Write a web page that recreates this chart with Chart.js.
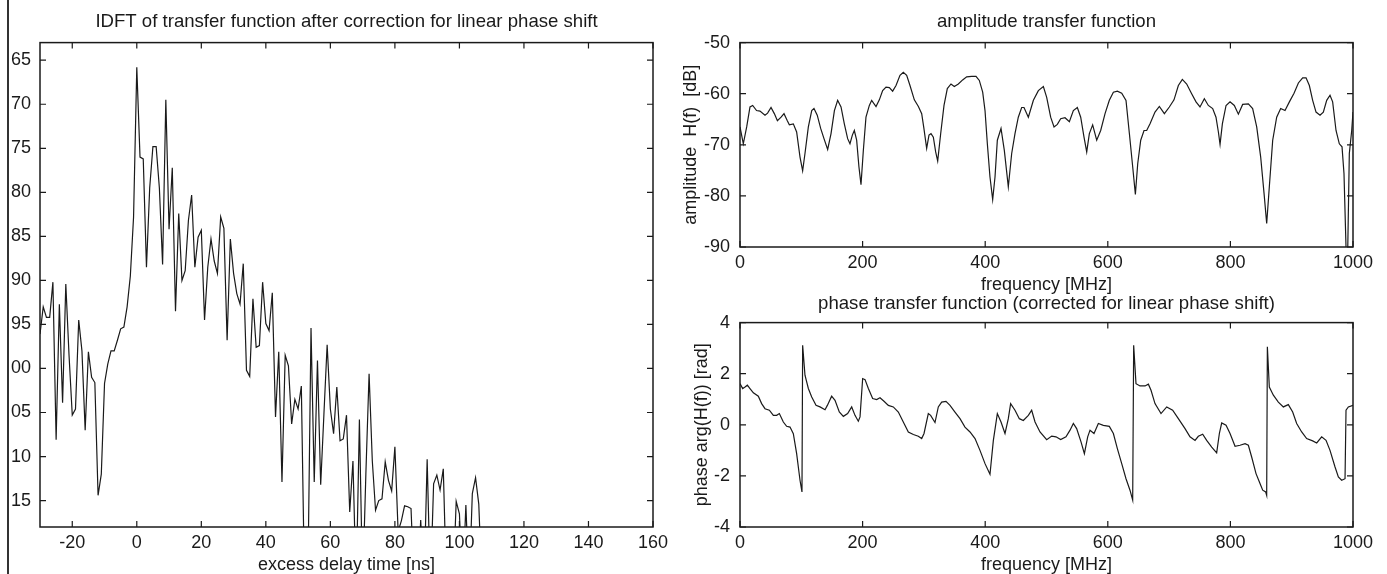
<!DOCTYPE html>
<html>
<head>
<meta charset="utf-8">
<script src="https://cdn.jsdelivr.net/npm/chart.js@4/dist/chart.umd.min.js"></script>
<style>
  html, body { margin: 0; padding: 0; background: #fff; overflow: hidden; }
  body { position: relative; width: 1387px; height: 574px; }
  canvas { position: absolute; }
  #edge { position: absolute; left: 7px; top: 0; width: 2px; height: 574px; background: #333; }
</style>
</head>
<body>
<div id="edge"></div>
<canvas id="idft" width="672" height="574" style="left:8px;top:0"></canvas>
<canvas id="amp" width="707" height="294" style="left:680px;top:0"></canvas>
<canvas id="phase" width="707" height="280" style="left:680px;top:294px"></canvas>
<script>
// IDFT (impulse response) in dB, 1 ns steps
const delayNs = [
  -30, -29, -28, -27, -26, -25, -24, -23, -22, -21, -20, -19, -18, -17, -16, -15, -14, -13, -12, -11,
  -10, -9, -8, -7, -6, -5, -4, -3, -2, -1, 0, 1, 2, 3, 4, 5, 6, 7, 8, 9,
  10, 11, 12, 13, 14, 15, 16, 17, 18, 19, 20, 21, 22, 23, 24, 25, 26, 27, 28, 29,
  30, 31, 32, 33, 34, 35, 36, 37, 38, 39, 40, 41, 42, 43, 44, 45, 46, 47, 48, 49,
  50, 51, 52, 53, 54, 55, 56, 57, 58, 59, 60, 61, 62, 63, 64, 65, 66, 67, 68, 69,
  70, 71, 72, 73, 74, 75, 76, 77, 78, 79, 80, 81, 82, 83, 84, 85, 86, 87, 88, 89,
  90, 91, 92, 93, 94, 95, 96, 97, 98, 99, 100, 101, 102, 103, 104, 105, 106, 107
]
const idftDb = [
  -96.1, -93.0, -94.2, -94.2, -90.2, -108.1, -92.7, -103.9, -90.4, -98.5, -105.3, -104.6, -94.5, -98.0, -107.0, -98.1, -101.0, -101.6, -114.4, -112.0,
  -101.7, -99.5, -98.0, -98.0, -96.8, -95.5, -95.3, -93.0, -89.5, -82.8, -65.8, -76.0, -76.2, -88.5, -79.5, -74.8, -74.8, -79.5, -88.2, -69.5,
  -84.2, -77.2, -93.5, -82.4, -90.0, -88.9, -83.2, -80.3, -88.5, -85.1, -84.3, -94.5, -88.5, -85.3, -87.8, -89.2, -82.8, -84.1, -96.8, -85.3,
  -89.2, -91.5, -92.7, -88.1, -100.2, -100.9, -92.1, -97.6, -97.4, -90.2, -94.9, -95.7, -91.4, -105.5, -98.1, -112.9, -98.5, -99.7, -106.3, -103.5,
  -104.6, -102.0, -125, -125, -95.4, -112.9, -99.1, -113.2, -105.2, -97.3, -104.6, -107.4, -102.1, -108.2, -108.0, -105.3, -116.3, -110.5, -125, -105.8,
  -125, -112.0, -100.6, -110.5, -116.1, -115.0, -114.8, -110.6, -112.7, -113.9, -108.9, -118.5, -117.3, -115.6, -115.7, -115.9, -125, -125, -117.2, -125,
  -110.3, -125, -113.1, -112.1, -113.8, -111.4, -125, -125, -125, -115.1, -116.5, -125, -115.5, -125, -114.2, -112.4, -115.4, -125
]
const delayTicks = [-20, 0, 20, 40, 60, 80, 100, 120, 140, 160]
const idftTicks = [-65, -70, -75, -80, -85, -90, -95, -100, -105, -110, -115]
// left edge of the figure is cropped, only the last two digits show
const idftTickLabels = ['65', '70', '75', '80', '85', '90', '95', '00', '05', '10', '15']

// amplitude transfer function
const ampFreq = [
  0, 5.4, 10.9, 16.3, 20.7, 27, 32.6, 40.8, 45, 50.6, 56, 61, 67, 71.8, 77.2, 80.5, 87, 92.4, 97.9, 102.2,
  106, 111.5, 117, 120.7, 126, 131.6, 137, 143, 148.5, 154, 159.3, 164.8, 170.2, 175.6, 179.4, 183.3, 186.5, 190.3, 194, 197.4,
  201.2, 205.5, 211, 214.8, 221.9, 227.3, 232.7, 238.2, 243.6, 249, 254.5, 261, 266.4, 271.9, 277.3, 284.4, 291, 296.4, 300, 304.5,
  308.3, 311.6, 315.4, 319.2, 322.5, 327.4, 332.8, 338.2, 344.2, 349.6, 356.2, 363.2, 369.8, 378, 385, 390.4, 395.9, 399.7, 403.5, 407.8,
  412.2, 416, 419.8, 425.8, 431.2, 437.7, 443.2, 448.6, 454, 459.5, 463.3, 470.4, 478.6, 486.7, 494.9, 500.3, 506.8, 512.3, 517.7, 523.1,
  530.2, 537.3, 543.8, 550.3, 555.8, 561.2, 565.6, 569.9, 575.3, 581.9, 588.4, 595.5, 602.5, 609.1, 615.6, 622.7, 629.7, 635.2, 640.6, 645,
  648.8, 653.7, 659.1, 663.4, 668.9, 677, 684.1, 692.3, 700.4, 708, 715.1, 721.6, 728.7, 736.8, 743.9, 750.4, 757.5, 764, 771.1, 776.5,
  780.4, 783.1, 786.9, 792.9, 799.4, 806.4, 813, 820, 829.3, 836.3, 842.9, 849.4, 854.9, 859.2, 863.5, 869, 875.5, 882, 889.1, 896.2,
  903.8, 910.9, 917.9, 923.4, 928.8, 934.2, 939.7, 946.2, 951.6, 957.1, 962.5, 966.8, 972.3, 977.7, 982.1, 985.3, 988.6, 990.8, 994, 997.9,
  1000
]
const ampDb = [
  -66.5, -69.8, -66.5, -62.6, -62.3, -63.3, -63.4, -64.2, -63.8, -62.7, -63.9, -65.3, -64.6, -63.9, -65.3, -66.1, -65.9, -67.5, -72.4, -75.1,
  -71.7, -66.5, -63.3, -62.9, -64.2, -66.8, -68.8, -70.9, -67.8, -63.3, -61.3, -62.6, -65.9, -68.8, -69.8, -68.1, -67.2, -69.1, -74.3, -77.8,
  -71.1, -64.6, -62.3, -61.3, -62.5, -61.2, -59.4, -58.7, -58.8, -59.5, -58.4, -56.4, -55.8, -56.4, -58.4, -61.2, -62.5, -63.9, -66.8, -70.7,
  -68.1, -67.8, -68.5, -71.4, -73.2, -67.8, -62.3, -59.0, -58.1, -58.6, -58.1, -57.3, -56.7, -56.6, -56.6, -57.4, -59.7, -63.3, -69.8, -76.3,
  -80.7, -76.3, -69.1, -66.8, -71.1, -78.2, -71.7, -67.8, -64.6, -62.7, -62.7, -64.6, -61.3, -59.4, -58.6, -60.7, -64.6, -66.5, -66.0, -64.9,
  -64.7, -65.5, -63.3, -62.7, -64.6, -68.5, -71.4, -67.8, -66.1, -69.1, -67.2, -63.9, -61.3, -59.7, -59.5, -59.9, -61.3, -67.8, -74.3, -79.7,
  -73.7, -69.1, -67.2, -67.2, -65.9, -63.6, -62.5, -63.9, -62.6, -61.2, -58.4, -57.2, -58.1, -60.0, -61.6, -62.6, -61.0, -62.3, -62.9, -64.6,
  -67.5, -69.9, -65.9, -62.3, -61.6, -62.3, -64.0, -62.1, -62.0, -62.9, -66.5, -72.4, -79.5, -85.4, -78.2, -69.1, -64.6, -62.9, -63.3, -61.6,
  -59.9, -57.9, -56.9, -56.9, -58.4, -61.3, -63.6, -64.2, -63.6, -61.3, -60.3, -61.6, -67.2, -69.8, -70.4, -75.6, -90.0, -95.0, -71.7, -67.2,
  -63.6
]
const ampTicks = [-90, -80, -70, -60, -50]
const freqTicks = [0, 200, 400, 600, 800, 1000]

// phase transfer function (corrected for linear phase shift)
const phaseFreq = [
  0, 4.4, 8.2, 12, 16.3, 21.8, 29.9, 35.3, 40.8, 47.9, 54.4, 59.8, 64.2, 70.7, 76.1, 81.6, 87, 92.4, 97.9, 101.1,
  102.2, 106, 111.5, 117, 124, 130.5, 138.7, 142.5, 149.5, 155, 162, 168.6, 175.6, 182.2, 187.6, 193, 195.8, 200.1, 204, 209.4,
  216.4, 223, 228.4, 234.9, 242, 250.1, 258.3, 266.4, 274.6, 282.8, 290.9, 296.4, 300.2, 307.2, 311, 318.1, 323.5, 329, 336, 342.6,
  350.7, 358.9, 367, 375.2, 383.4, 391.5, 399.7, 407.8, 413.3, 419.8, 425.8, 432.3, 437.7, 441.5, 448.6, 455.7, 462.2, 470.4, 475.8, 481.3,
  489.4, 500.3, 508.5, 515.5, 523.1, 531.8, 538.4, 543.8, 549.2, 556.3, 561.8, 567.2, 571, 577.5, 584.6, 592.7, 602.5, 609.1, 615.6, 622.7,
  629.7, 636.2, 640.6, 642.2, 646, 652.6, 660.7, 666.2, 670.5, 677, 686.8, 696.1, 705.8, 715.1, 726, 734.1, 742.3, 747.7, 754.8, 761.3,
  769.5, 777.6, 782, 785.8, 792.9, 799.4, 807.6, 815.7, 823.9, 829.3, 834.7, 841.8, 848.3, 852.7, 857.6, 859.2, 860.3, 863.5, 870.1, 878.2,
  886.4, 894.5, 901.6, 908.1, 916.3, 924.4, 934.2, 940.8, 948.9, 956, 962.5, 970.7, 976.1, 981.5, 987, 988.6, 992.4, 1000
]
const phaseRad = [
  1.61, 1.42, 1.48, 1.55, 1.42, 1.25, 1.12, 0.83, 0.63, 0.57, 0.37, 0.37, 0.44, 0.11, -0.06, -0.09, -0.35, -1.13, -2.17, -2.63,
  3.11, 1.94, 1.42, 1.09, 0.76, 0.70, 0.59, 0.76, 1.12, 0.96, 0.50, 0.33, 0.44, 0.70, 0.37, 0.14, 0.31, 1.81, 1.77, 1.42,
  1.03, 0.99, 1.06, 0.92, 0.76, 0.70, 0.50, 0.11, -0.28, -0.38, -0.45, -0.54, -0.34, 0.44, 0.37, 0.09, 0.70, 0.89, 0.92, 0.76,
  0.50, 0.24, -0.09, -0.28, -0.54, -1.00, -1.52, -1.94, -0.61, 0.44, 0.11, -0.34, 0.24, 0.83, 0.57, 0.24, 0.17, 0.37, 0.57, 0.11,
  -0.28, -0.58, -0.44, -0.47, -0.58, -0.47, -0.21, 0.05, -0.15, -0.67, -1.13, -0.47, -0.21, -0.34, 0.05, -0.02, -0.06, -0.34, -0.93, -1.52,
  -2.11, -2.56, -2.95, 3.11, 1.61, 1.52, 1.52, 1.59, 1.35, 0.83, 0.44, 0.70, 0.57, 0.24, -0.15, -0.47, -0.61, -0.45, -0.37, -0.61,
  -0.87, -1.10, -0.34, 0.07, -0.02, -0.34, -0.84, -0.80, -0.74, -0.80, -1.26, -1.91, -2.30, -2.56, -2.63, -2.76, 3.05, 1.48, 1.16, 0.89,
  0.70, 0.79, 0.50, 0.05, -0.28, -0.54, -0.63, -0.71, -0.47, -0.61, -1.00, -1.65, -2.04, -2.17, -2.11, 0.57, 0.70, 0.76
]
const phaseTicks = [-4, -2, 0, 2, 4]

const ink = '#1a1a1a'
Chart.defaults.font.family = '"Liberation Sans", Arial, Helvetica, sans-serif'
Chart.defaults.font.size = 18
Chart.defaults.color = ink

const pairs = (xs, ys) => xs.map((x, i) => ({ x, y: ys[i] }))

// gnuplot-like frame with inward tick marks on all four sides
const frameTicks = {
  id: 'frameTicks',
  afterDatasetsDraw (chart) {
    const { ctx, chartArea: a, scales: { x, y } } = chart
    ctx.save()
    ctx.strokeStyle = ink
    ctx.lineWidth = 1.5
    ctx.strokeRect(a.left, a.top, a.right - a.left, a.bottom - a.top)
    ctx.lineWidth = 1.2
    ctx.beginPath()
    x.ticks.forEach(t => {
      const px = x.getPixelForValue(t.value)
      ctx.moveTo(px, a.bottom)
      ctx.lineTo(px, a.bottom - 6)
      ctx.moveTo(px, a.top)
      ctx.lineTo(px, a.top + 6)
    })
    y.ticks.forEach(t => {
      const py = y.getPixelForValue(t.value)
      ctx.moveTo(a.left, py)
      ctx.lineTo(a.left + 6, py)
      ctx.moveTo(a.right, py)
      ctx.lineTo(a.right - 6, py)
    })
    ctx.stroke()
    ctx.restore()
  }
}

function panel (id, cfg) {
  return new Chart(document.getElementById(id), {
    type: 'line',
    data: {
      datasets: [{
        data: cfg.points,
        borderColor: ink,
        borderWidth: 1.2,
        pointRadius: 0,
        tension: 0,
        fill: false
      }]
    },
    options: {
      responsive: false,
      animation: false,
      events: [],
      layout: { padding: { left: 0, right: cfg.padRight, top: 0, bottom: 0 } },
      plugins: {
        legend: { display: false },
        tooltip: { enabled: false },
        title: {
          display: true,
          fullSize: false,
          text: cfg.title,
          color: ink,
          font: { size: 18.6, weight: 'normal', lineHeight: 1 },
          padding: cfg.titlePad
        }
      },
      scales: {
        x: {
          type: 'linear',
          min: cfg.xMin,
          max: cfg.xMax,
          grid: { display: false, drawTicks: false },
          border: { display: false },
          afterBuildTicks: s => { s.ticks = cfg.xTicks.map(v => ({ value: v })) },
          afterFit: s => { s.height = 47 },
          ticks: { padding: 5, maxRotation: 0, autoSkip: false, callback: v => String(v) },
          title: {
            display: true,
            text: cfg.xTitle,
            font: { size: 18, lineHeight: 1 },
            padding: { top: 0, bottom: 0 }
          }
        },
        y: {
          type: 'linear',
          min: cfg.yMin,
          max: cfg.yMax,
          grid: { display: false, drawTicks: false },
          border: { display: false },
          afterBuildTicks: s => { s.ticks = cfg.yTicks.map(v => ({ value: v })) },
          afterFit: s => { s.width = cfg.yWidth },
          ticks: { padding: cfg.yPad, autoSkip: false, callback: cfg.yLabel || (v => String(v)) },
          title: {
            display: !!cfg.yTitle,
            text: cfg.yTitle || '',
            font: { size: 18, lineHeight: 1 },
            padding: { top: cfg.yTitlePad || 0, bottom: 0 }
          }
        }
      }
    },
    plugins: [frameTicks]
  })
}

panel('idft', {
  points: pairs(delayNs, idftDb),
  title: 'IDFT of transfer function after correction for linear phase shift',
  titlePad: { top: 13, bottom: 11 },
  padRight: 27,
  xMin: -30,
  xMax: 160,
  xTicks: delayTicks,
  xTitle: 'excess delay time [ns]',
  yMin: -118,
  yMax: -63,
  yTicks: idftTicks,
  yLabel: (v, i) => idftTickLabels[i],
  yWidth: 32,
  yPad: 9
})

panel('amp', {
  points: pairs(ampFreq, ampDb),
  title: 'amplitude transfer function',
  titlePad: { top: 13, bottom: 11 },
  padRight: 34,
  xMin: 0,
  xMax: 1000,
  xTicks: freqTicks,
  xTitle: 'frequency [MHz]',
  yMin: -90,
  yMax: -50,
  yTicks: ampTicks,
  yWidth: 60,
  yPad: 10,
  yTitle: 'amplitude  H(f)  [dB]',
  yTitlePad: 2
})

panel('phase', {
  points: pairs(phaseFreq, phaseRad),
  title: 'phase transfer function (corrected for linear phase shift)',
  titlePad: { top: 0.5, bottom: 9.5 },
  padRight: 34,
  xMin: 0,
  xMax: 1000,
  xTicks: freqTicks,
  xTitle: 'frequency [MHz]',
  yMin: -4,
  yMax: 4,
  yTicks: phaseTicks,
  yWidth: 60,
  yPad: 10,
  yTitle: 'phase arg(H(f)) [rad]',
  yTitlePad: 13
})
</script>
</body>
</html>
